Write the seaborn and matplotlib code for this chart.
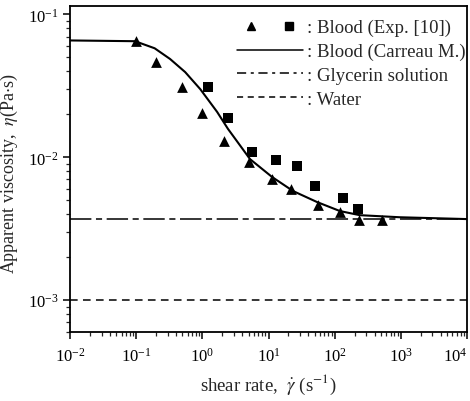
import numpy as np
import pandas as pd
import matplotlib
matplotlib.use("Agg")
import matplotlib.pyplot as plt
import seaborn as sns
from matplotlib.lines import Line2D
from matplotlib.legend_handler import HandlerTuple

# ---- data ----
tri_x = [0.1, 0.2, 0.5, 1.0, 2.1, 5.1, 11.3, 22, 56, 120, 233, 520]
tri_y = [0.0652, 0.0465, 0.031, 0.0204, 0.013, 0.0093, 0.00705, 0.006, 0.00463, 0.00413, 0.00363, 0.00363]

sq_x = [1.22, 2.44, 5.6, 13, 27, 50.5, 134, 225]
sq_y = [0.031, 0.0188, 0.0109, 0.00957, 0.0087, 0.0063, 0.00519, 0.00433]

carreau_x = [0.01, 0.096, 0.19, 0.325, 0.55, 0.93, 1.67, 2.44, 5.26, 11.3, 23.5, 54, 120, 240, 970, 10000]
carreau_y = [0.0658, 0.065, 0.058, 0.0488, 0.0395, 0.030, 0.0208, 0.0158, 0.0097, 0.00728, 0.0058, 0.00486, 0.0042, 0.00393, 0.0038, 0.00369]

const_x = [0.01, 10000]
glycerin_y = [0.00369, 0.00369]
water_y = [0.001, 0.001]

labels = [": Blood (Exp. [10])", ": Blood (Carreau M.)", ": Glycerin solution", ": Water"]

sns.set_theme(style="ticks")
plt.rcParams["font.family"] = ["Liberation Serif", "DejaVu Serif"]
plt.rcParams["mathtext.fontset"] = "stix"

fig = plt.figure(figsize=(4.7, 4.02), dpi=100)
ax = fig.add_axes([0.149, 0.1716, 0.8446, 0.811])

df_c = pd.DataFrame({"x": carreau_x, "y": carreau_y})
sns.lineplot(data=df_c, x="x", y="y", ax=ax, color="black", lw=1.5, sort=False)
sns.lineplot(x=const_x, y=glycerin_y, ax=ax, color="black", lw=1.1,
             linestyle=(0, (14, 3, 4, 3)))
sns.lineplot(x=const_x, y=water_y, ax=ax, color="black", lw=1.1,
             linestyle=(0, (5, 3.5)))
sns.scatterplot(x=tri_x, y=tri_y, ax=ax, marker="^", s=60, color="black",
                edgecolor="black", linewidth=0)
sns.scatterplot(x=sq_x, y=sq_y, ax=ax, marker="s", s=50, color="black",
                edgecolor="black", linewidth=0)

ax.set_xscale("log")
ax.set_yscale("log")
ax.set_xlim(0.01, 10000)
ax.set_ylim(5.97e-4, 0.1147)
ax.set_xticks([1e-2, 1e-1, 1e0, 1e1, 1e2, 1e3, 1e4])
ax.set_yticks([1e-3, 1e-2, 1e-1])

for s in ax.spines.values():
    s.set_linewidth(1.3)
    s.set_color("black")
ax.tick_params(which="major", direction="out", length=5, width=1.1, labelsize=12, colors="black")
ax.tick_params(which="minor", direction="out", length=3, width=0.9)
ax.tick_params(axis="x", pad=6)

fig.canvas.draw()
xt = ax.get_xticklabels()
xt[-1].set_horizontalalignment("right")
xt[-1].set_x(1e4)

ax.set_xlabel(r"shear rate,  $\dot{\gamma}$ (s$^{-1}$)", fontsize=13.5, labelpad=5)
ax.set_ylabel(r"Apparent viscosity,  $\eta$(Pa$\cdot$s)", fontsize=13, labelpad=0)
ax.yaxis.set_label_coords(-0.125, 0.49)

h_exp = (Line2D([], [], marker="^", color="black", ls="none", markersize=6),
         Line2D([], [], marker="s", color="black", ls="none", markersize=5.5))
h_car = Line2D([], [], color="black", lw=1.1)
h_gly = Line2D([], [], color="black", lw=1.1, linestyle=(0, (6, 3, 2, 3)))
h_wat = Line2D([], [], color="black", lw=1.1, linestyle=(0, (4, 3)))
leg = ax.legend([h_exp, h_car, h_gly, h_wat], labels,
                handler_map={tuple: HandlerTuple(ndivide=None, pad=0.6)},
                loc="upper left", bbox_to_anchor=(0.388, 1.0), frameon=False,
                fontsize=13.5, handlelength=3.5, handletextpad=0.2,
                labelspacing=0.35, borderaxespad=0.3)

fig.savefig("out.png", dpi=100)
